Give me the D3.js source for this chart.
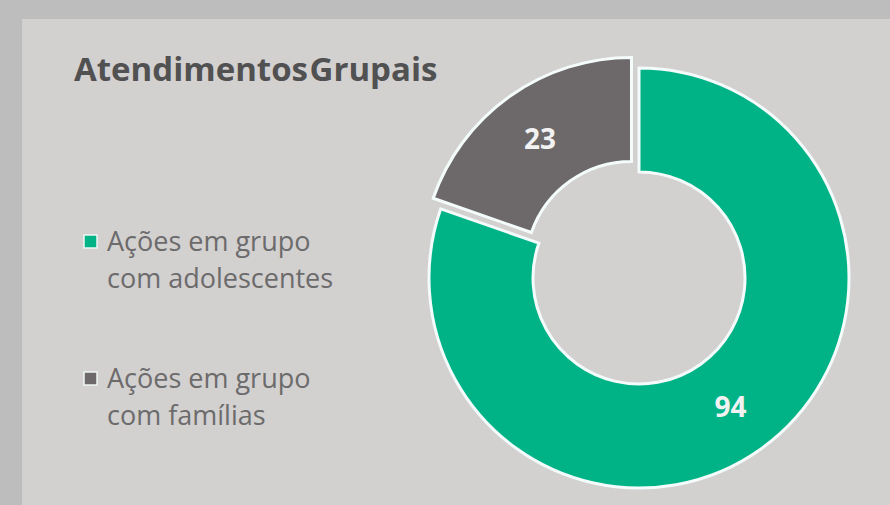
<!DOCTYPE html>
<html>
<head>
<meta charset="utf-8">
<script src="https://cdn.jsdelivr.net/npm/d3@7"></script>
<style>
  html, body { margin: 0; padding: 0; background: #bdbdbd; }
  svg { display: block; }
</style>
</head>
<body>
<script>
// data
const title = "Atendimentos Grupais";
const categories = ["Ações em grupo com adolescentes", "Ações em grupo com famílias"];
const legendLines = [["Ações em grupo", "com adolescentes"], ["Ações em grupo", "com famílias"]];
const values = [94, 23];
const colors = ["#00b387", "#6d6869"];

const width = 890, height = 505;
const cx = 639, cy = 278;
const outerR = 210, innerR = 106;
const explode = 13; // gray slice is pulled out

const svg = d3.select("body").append("svg")
  .attr("width", width)
  .attr("height", height);

// panel
svg.append("rect")
  .attr("x", 22).attr("y", 19)
  .attr("width", width - 22).attr("height", height - 19)
  .attr("fill", "#d3d0d0");

svg.append("text")
  .attr("x", 74).attr("y", 81)
  .attr("font-family", "Open Sans")
  .attr("font-weight", "bold")
  .attr("font-size", 33)
  .attr("word-spacing", -7)
  .attr("fill", "#525152")
  .text(title);

const pie = d3.pie().sort(null).value(d => d.value);
const arc = d3.arc().innerRadius(innerR).outerRadius(outerR);

const pieData = pie(categories.map((c, i) => ({name: c, value: values[i], color: colors[i]})));

const donut = svg.append("g").attr("transform", `translate(${cx},${cy})`);

const slices = donut.selectAll("g.slice")
  .data(pieData)
  .join("g")
  .attr("class", "slice")
  .attr("transform", (d, i) => {
    if (i == 0) return null;
    const mid = (d.startAngle + d.endAngle) / 2;
    return `translate(${Math.sin(mid) * explode},${-Math.cos(mid) * explode})`;
  });

slices.append("path")
  .attr("d", arc)
  .attr("fill", d => d.data.color)
  .attr("stroke", "#f4fbfb")
  .attr("stroke-width", 3)
  .attr("stroke-linejoin", "miter");

slices.append("text")
  .attr("transform", d => `translate(${arc.centroid(d)})`)
  .attr("text-anchor", "middle")
  .attr("dy", "0.36em")
  .attr("font-family", "Open Sans")
  .attr("font-weight", "bold")
  .attr("font-size", 28)
  .attr("fill", "#f2f2f2")
  .text(d => d.data.value);

// legend
const legendY = [251, 388];
const legend = svg.selectAll("g.legend")
  .data(legendLines)
  .join("g")
  .attr("class", "legend")
  .attr("transform", (d, i) => `translate(0,${legendY[i]})`);

legend.append("rect")
  .attr("x", 84).attr("y", -16)
  .attr("width", 13).attr("height", 13)
  .attr("fill", (d, i) => colors[i])
  .attr("stroke", "#eef6f4")
  .attr("stroke-width", 1.5);

legend.append("text")
  .attr("font-family", "Open Sans")
  .attr("font-size", 27)
  .attr("fill", "#6c6b6c")
  .selectAll("tspan")
  .data(d => d)
  .join("tspan")
  .attr("x", 107)
  .attr("y", (d, j) => j * 37)
  .text(d => d);
</script>
</body>
</html>
